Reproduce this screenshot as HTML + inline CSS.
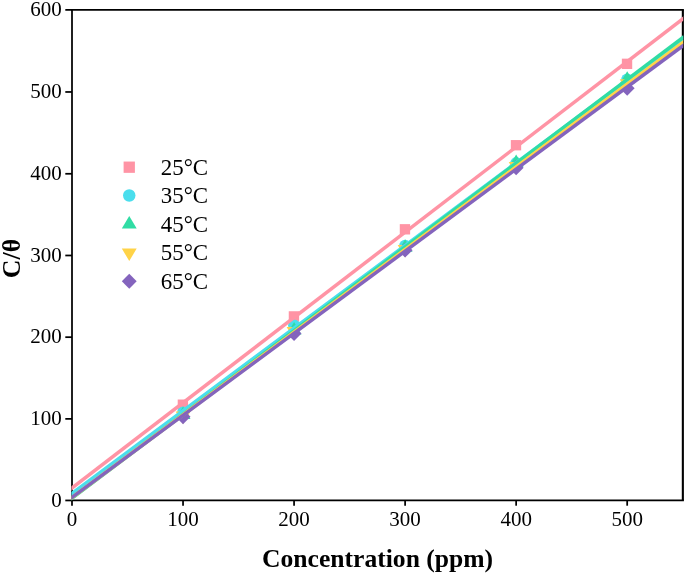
<!DOCTYPE html>
<html><head><meta charset="utf-8"><title>chart</title>
<style>
html,body{margin:0;padding:0;background:#fff;}
body{width:685px;height:574px;overflow:hidden;}
svg{display:block;will-change:transform;}
text{font-family:"Liberation Serif",serif;fill:#000;}
.tk{font-size:21px;}
.lg{font-size:22.9px;}
.xt{font-size:25.6px;font-weight:bold;}
.yt{font-size:25.8px;font-weight:bold;}
</style></head><body>
<svg width="685" height="574" viewBox="0 0 685 574">
<rect x="0" y="0" width="685" height="574" fill="#fff"/>
<defs><clipPath id="cp"><rect x="71.4" y="9.9" width="611.8" height="490.6"/></clipPath></defs>

<g stroke="#000" fill="none">
<line x1="71.125" y1="9.9" x2="683.9" y2="9.9" stroke-width="1.75"/>
<line x1="71.125" y1="500.45" x2="683.9" y2="500.45" stroke-width="1.75"/>
<line x1="72.0" y1="9.9" x2="72.0" y2="500.45" stroke-width="1.75"/>
<line x1="682.85" y1="9.9" x2="682.85" y2="500.45" stroke-width="2.1"/>
</g>
<line x1="65.3" y1="500.45" x2="72" y2="500.45" stroke="#000" stroke-width="1.75"/>
<text class="tk" x="61.7" y="506.90" text-anchor="end">0</text>
<line x1="65.3" y1="418.88" x2="72" y2="418.88" stroke="#000" stroke-width="1.75"/>
<text class="tk" x="61.7" y="424.88" text-anchor="end">100</text>
<line x1="65.3" y1="337.17" x2="72" y2="337.17" stroke="#000" stroke-width="1.75"/>
<text class="tk" x="61.7" y="343.07" text-anchor="end">200</text>
<line x1="65.3" y1="255.48" x2="72" y2="255.48" stroke="#000" stroke-width="1.75"/>
<text class="tk" x="61.7" y="261.55" text-anchor="end">300</text>
<line x1="65.3" y1="173.78" x2="72" y2="173.78" stroke="#000" stroke-width="1.75"/>
<text class="tk" x="61.7" y="179.53" text-anchor="end">400</text>
<line x1="65.3" y1="91.97" x2="72" y2="91.97" stroke="#000" stroke-width="1.75"/>
<text class="tk" x="61.7" y="97.52" text-anchor="end">500</text>
<line x1="65.3" y1="9.90" x2="72" y2="9.90" stroke="#000" stroke-width="1.75"/>
<text class="tk" x="61.7" y="16.10" text-anchor="end">600</text>
<line x1="72.00" y1="500.4" x2="72.00" y2="505.7" stroke="#000" stroke-width="1.75"/>
<text class="tk" x="72.00" y="525.7" text-anchor="middle">0</text>
<line x1="183.04" y1="500.4" x2="183.04" y2="505.7" stroke="#000" stroke-width="1.75"/>
<text class="tk" x="183.04" y="525.7" text-anchor="middle">100</text>
<line x1="294.07" y1="500.4" x2="294.07" y2="505.7" stroke="#000" stroke-width="1.75"/>
<text class="tk" x="294.07" y="525.7" text-anchor="middle">200</text>
<line x1="405.11" y1="500.4" x2="405.11" y2="505.7" stroke="#000" stroke-width="1.75"/>
<text class="tk" x="405.11" y="525.7" text-anchor="middle">300</text>
<line x1="516.15" y1="500.4" x2="516.15" y2="505.7" stroke="#000" stroke-width="1.75"/>
<text class="tk" x="516.15" y="525.7" text-anchor="middle">400</text>
<line x1="627.18" y1="500.4" x2="627.18" y2="505.7" stroke="#000" stroke-width="1.75"/>
<text class="tk" x="627.18" y="525.7" text-anchor="middle">500</text>
<text class="xt" x="377.6" y="566.5" text-anchor="middle">Concentration (ppm)</text>
<text class="yt" transform="translate(19.9,258.5) rotate(-90)" text-anchor="middle">C/θ</text>
<g>
<rect x="177.71" y="399.50" width="10.35" height="10.35" fill="#FF94A5"/>
<rect x="288.75" y="311.24" width="10.35" height="10.35" fill="#FF94A5"/>
<rect x="399.78" y="224.13" width="10.35" height="10.35" fill="#FF94A5"/>
<rect x="510.82" y="140.05" width="10.35" height="10.35" fill="#FF94A5"/>
<rect x="621.86" y="58.66" width="10.35" height="10.35" fill="#FF94A5"/>
<circle cx="183.04" cy="412.44" r="6.00" fill="#4ADEED"/>
<circle cx="294.07" cy="325.49" r="6.00" fill="#4ADEED"/>
<circle cx="405.11" cy="245.82" r="6.00" fill="#4ADEED"/>
<circle cx="516.15" cy="163.12" r="6.00" fill="#4ADEED"/>
<circle cx="627.18" cy="79.52" r="6.00" fill="#4ADEED"/>
<polygon points="183.04,406.47 190.49,418.97 175.59,418.97" fill="#30DCA4"/>
<polygon points="294.07,321.98 301.52,334.48 286.62,334.48" fill="#30DCA4"/>
<polygon points="405.11,239.36 412.56,251.86 397.66,251.86" fill="#30DCA4"/>
<polygon points="516.15,154.38 523.60,166.88 508.70,166.88" fill="#30DCA4"/>
<polygon points="627.18,71.27 634.63,83.77 619.73,83.77" fill="#30DCA4"/>
<polygon points="183.04,424.04 190.49,411.54 175.59,411.54" fill="#FFD348"/>
<polygon points="294.07,339.54 301.52,327.04 286.62,327.04" fill="#FFD348"/>
<polygon points="405.11,257.50 412.56,245.00 397.66,245.00" fill="#FFD348"/>
<polygon points="516.15,174.56 523.60,162.06 508.70,162.06" fill="#FFD348"/>
<polygon points="627.18,91.78 634.63,79.28 619.73,79.28" fill="#FFD348"/>
<polygon points="183.04,409.32 190.49,416.77 183.04,424.22 175.59,416.77" fill="#8464BD"/>
<polygon points="294.07,326.13 301.52,333.58 294.07,341.03 286.62,333.58" fill="#8464BD"/>
<polygon points="405.11,242.70 412.56,250.15 405.11,257.60 397.66,250.15" fill="#8464BD"/>
<polygon points="516.15,160.33 523.60,167.78 516.15,175.23 508.70,167.78" fill="#8464BD"/>
<polygon points="627.18,80.73 634.63,88.18 627.18,95.63 619.73,88.18" fill="#8464BD"/>
</g>
<g clip-path="url(#cp)">
<line x1="62.00" y1="495.68" x2="692.70" y2="11.32" stroke="#FF94A5" stroke-width="3.5"/>
<line x1="62.00" y1="500.84" x2="692.70" y2="31.56" stroke="#4ADEED" stroke-width="3.5"/>
<line x1="62.00" y1="505.74" x2="692.70" y2="30.16" stroke="#30DCA4" stroke-width="3.5"/>
<line x1="62.00" y1="504.95" x2="692.70" y2="35.30" stroke="#FFD348" stroke-width="3.5"/>
<line x1="62.00" y1="504.74" x2="692.70" y2="38.61" stroke="#8464BD" stroke-width="3.5"/>
</g>
<rect x="123.60" y="161.55" width="11.30" height="11.30" fill="#FF94A5"/>
<circle cx="129.25" cy="195.50" r="6.25" fill="#4ADEED"/>
<polygon points="129.25,215.97 136.70,228.47 121.80,228.47" fill="#30DCA4"/>
<polygon points="129.25,261.03 136.70,248.53 121.80,248.53" fill="#FFD348"/>
<polygon points="129.25,273.75 136.70,281.20 129.25,288.65 121.80,281.20" fill="#8464BD"/>
<text class="lg" x="160.8" y="174.70">25°C</text>
<text class="lg" x="160.8" y="203.15">35°C</text>
<text class="lg" x="160.8" y="231.60">45°C</text>
<text class="lg" x="160.8" y="260.05">55°C</text>
<text class="lg" x="160.8" y="288.50">65°C</text>
</svg></body></html>
